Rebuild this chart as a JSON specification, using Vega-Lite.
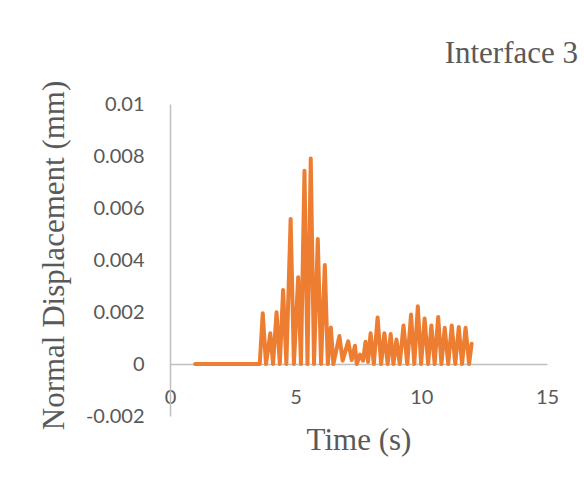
{
  "$schema": "https://vega.github.io/schema/vega-lite/v6.json",
  "width": 377,
  "height": 312,
  "autosize": "none",
  "padding": {"left": 170, "top": 104, "right": 37, "bottom": 67},
  "background": "white",
  "title": {"text": "Interface 3", "anchor": "end", "frame": "group", "font": "Liberation Serif", "fontSize": 31, "fontWeight": "normal", "color": "#595959", "baseline": "alphabetic", "offset": -14, "dx": 31},
  "config": {"view": {"stroke": null}},
  "data": {"values": [
    {"time": 1.0, "disp": 0}, {"time": 3.57, "disp": 0},
    {"time": 3.69, "disp": 0.00195}, {"time": 3.82, "disp": 0},
    {"time": 3.99, "disp": 0.00118}, {"time": 4.10, "disp": 0},
    {"time": 4.24, "disp": 0.00199}, {"time": 4.37, "disp": 0},
    {"time": 4.50, "disp": 0.00285}, {"time": 4.63, "disp": 0},
    {"time": 4.80, "disp": 0.00558}, {"time": 4.93, "disp": 0},
    {"time": 5.10, "disp": 0.00334}, {"time": 5.21, "disp": 0},
    {"time": 5.35, "disp": 0.00743}, {"time": 5.47, "disp": 0},
    {"time": 5.60, "disp": 0.0079}, {"time": 5.73, "disp": 0},
    {"time": 5.88, "disp": 0.00481}, {"time": 6.01, "disp": 0},
    {"time": 6.16, "disp": 0.00381}, {"time": 6.28, "disp": 0},
    {"time": 6.40, "disp": 0.0014}, {"time": 6.50, "disp": 0},
    {"time": 6.74, "disp": 0.00108}, {"time": 6.87, "disp": 0.00013},
    {"time": 7.09, "disp": 0.00087}, {"time": 7.23, "disp": 0.00015},
    {"time": 7.36, "disp": 0.0007}, {"time": 7.43, "disp": 0},
    {"time": 7.56, "disp": 0.00036}, {"time": 7.68, "disp": 0.00013},
    {"time": 7.78, "disp": 0.00086}, {"time": 7.88, "disp": 0.00008},
    {"time": 7.98, "disp": 0.00118}, {"time": 8.11, "disp": 0},
    {"time": 8.26, "disp": 0.00179}, {"time": 8.40, "disp": 0},
    {"time": 8.53, "disp": 0.00118}, {"time": 8.66, "disp": 0},
    {"time": 8.78, "disp": 0.00115}, {"time": 8.89, "disp": 0},
    {"time": 9.01, "disp": 0.00094}, {"time": 9.14, "disp": 0},
    {"time": 9.29, "disp": 0.00148}, {"time": 9.44, "disp": 0},
    {"time": 9.59, "disp": 0.0019}, {"time": 9.72, "disp": 0},
    {"time": 9.86, "disp": 0.00222}, {"time": 9.99, "disp": 0},
    {"time": 10.13, "disp": 0.00175}, {"time": 10.27, "disp": 0},
    {"time": 10.40, "disp": 0.00148}, {"time": 10.53, "disp": 0},
    {"time": 10.67, "disp": 0.00181}, {"time": 10.80, "disp": 0},
    {"time": 10.93, "disp": 0.00139}, {"time": 11.07, "disp": 0},
    {"time": 11.21, "disp": 0.00148}, {"time": 11.35, "disp": 0},
    {"time": 11.49, "disp": 0.00142}, {"time": 11.62, "disp": 0},
    {"time": 11.76, "disp": 0.00139}, {"time": 11.90, "disp": 0},
    {"time": 12.0, "disp": 0.00078}
  ]},
  "mark": {"type": "line", "color": "#ED7D31", "strokeWidth": 4, "strokeCap": "round", "strokeJoin": "round"},
  "encoding": {
    "x": {
      "field": "time", "type": "quantitative",
      "scale": {"domain": [0, 15], "nice": false, "zero": false},
      "axis": {
        "values": [0, 5, 10, 15], "title": "Time (s)", "offset": -52,
        "ticks": false, "tickSize": 0, "grid": false,
        "domainColor": "#BFBFBF", "domainWidth": 1.5,
        "labelFont": "Lato", "labelFontSize": 20, "labelColor": "#595959",
        "labelBaseline": "alphabetic", "labelPadding": 39, "labelFlush": false, "labelOverlap": false,
        "titleFont": "Liberation Serif", "titleFontSize": 31, "titleFontWeight": "normal", "titleColor": "#595959",
        "titleBaseline": "alphabetic", "titleY": 85
      }
    },
    "y": {
      "field": "disp", "type": "quantitative",
      "scale": {"domain": [-0.002, 0.01], "nice": false, "zero": false},
      "axis": {
        "values": [-0.002, 0, 0.002, 0.004, 0.006, 0.008, 0.01],
        "labelExpr": "toString(datum.value)",
        "title": "Normal Displacement (mm)",
        "ticks": false, "tickSize": 0, "grid": false,
        "domainColor": "#BFBFBF", "domainWidth": 1.5,
        "labelFont": "Lato", "labelFontSize": 20, "labelColor": "#595959",
        "labelPadding": 26, "labelOverlap": false, "labelFlush": false,
        "titleFont": "Liberation Serif", "titleFontSize": 31, "titleFontWeight": "normal", "titleColor": "#595959",
        "titleAngle": -90, "titleAlign": "center", "titleBaseline": "alphabetic",
        "titleX": -107, "titleY": 151
      }
    }
  }
}
